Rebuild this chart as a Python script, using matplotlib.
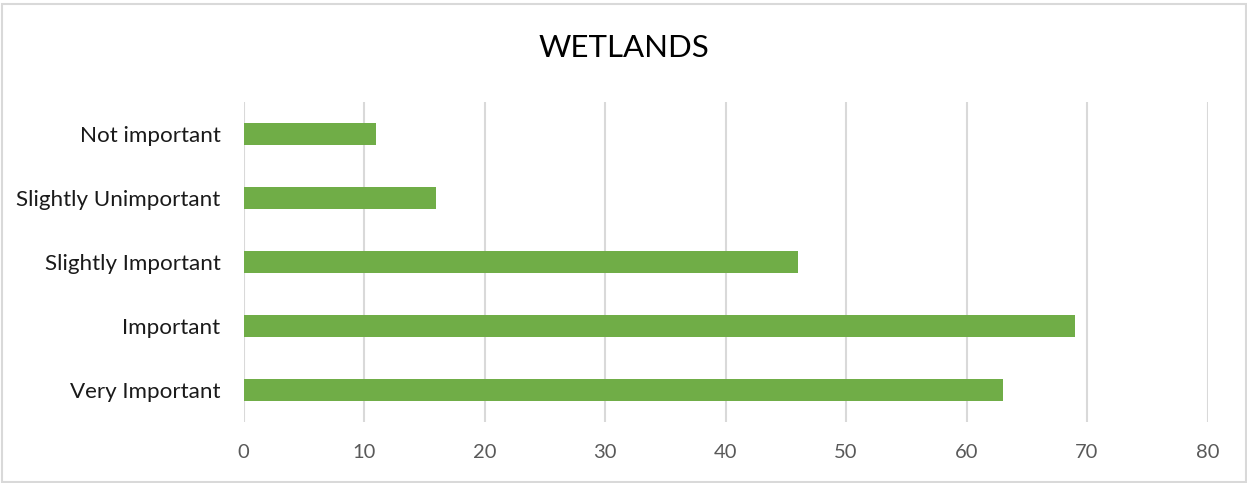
import matplotlib
matplotlib.use("Agg")
import matplotlib.pyplot as plt
from matplotlib.patches import Rectangle

categories = ["Very Important", "Important", "Slightly Important",
              "Slightly Unimportant", "Not important"]
values = [63, 69, 46, 16, 11]
x_ticks = [0, 10, 20, 30, 40, 50, 60, 70, 80]
title = "WETLANDS"

plt.rcParams["font.family"] = ["Lato", "DejaVu Sans"]

W, H = 1247, 483
fig = plt.figure(figsize=(W / 100, H / 100), dpi=100)
ax = fig.add_axes([243.5 / W, (H - 422) / H, (1207.5 - 243.5) / W, 320 / H])

ax.barh(range(len(categories)), values, height=0.35, color="#70AD47", zorder=3)
ax.set_xlim(0, 80)
ax.set_ylim(-0.5, len(categories) - 0.5)
ax.set_xticks(x_ticks)
ax.set_xticklabels([str(t) for t in x_ticks])
ax.set_yticks(range(len(categories)))
ax.set_yticklabels(categories)

ax.grid(axis="x", color="#D9D9D9", linewidth=1.5, zorder=0)
for s in ax.spines.values():
    s.set_visible(False)
ax.tick_params(axis="both", length=0)
ax.tick_params(axis="y", pad=16.5, labelsize=16.1, labelcolor="#1A1A1A")
ax.tick_params(axis="x", pad=16, labelsize=14.5, labelcolor="#595959")

fig.text(0.5, 1 - 48 / H, title, ha="center", va="center", fontsize=22.5, color="#000000")

fig.patches.append(Rectangle((1.5 / W, 1.5 / H), (W - 3) / W, (H - 5) / H,
                             transform=fig.transFigure, fill=False,
                             edgecolor="#D9D9D9", linewidth=1.5))

fig.savefig("out.png", dpi=100)
